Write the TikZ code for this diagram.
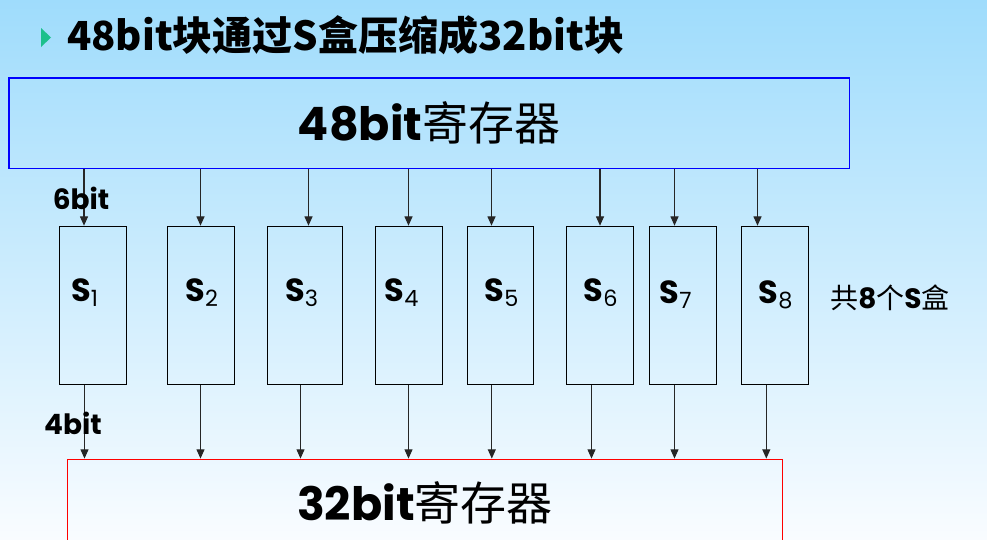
\documentclass[tikz,border=0pt]{standalone}
\usepackage{fontspec}
\setmainfont{Poppins}
\newfontfamily\cjk{Noto Sans CJK SC}
\usetikzlibrary{arrows.meta}
\definecolor{bgtop}{HTML}{9FDCFC}
\definecolor{bgmid}{HTML}{D6EFFD}
\definecolor{bgbot}{HTML}{F9FCFF}
\definecolor{bullet}{HTML}{1CC08C}
\tikzset{
  reg/.style={draw, line width=1pt, inner sep=0pt},
  sbox/.style={draw, line width=0.9pt, minimum width=50.25pt, minimum height=118.5pt, inner sep=0pt},
  arr/.style={-{Triangle[width=6pt,length=7pt]}, line width=0.9pt, black!85},
  slabel/.style={font=\fontsize{24}{24}\selectfont\bfseries, inner sep=0pt},
  bitlabel/.style={font=\fontsize{21}{21}\selectfont\bfseries, inner sep=0pt},
}
\begin{document}
\begin{tikzpicture}[x=0.75pt, y=-0.75pt]
\useasboundingbox (0,0) rectangle (987,539);
\clip (0,0) rectangle (987,539);
\shade[top color=bgtop, middle color=bgmid, bottom color=bgbot] (0,0) rectangle (987,539);

\fill[bullet] (41,28) -- (41,47) -- (51,37.5) -- cycle;
\node[anchor=west, inner sep=0pt, font=\fontsize{30}{30}\selectfont] (title) at (67,35) {\cjk\bfseries 48bit块通过S盒压缩成32bit块};

\node[reg, draw=blue, minimum width=630.2pt, minimum height=67.7pt, font=\fontsize{34.5}{34.5}\selectfont] (T) at (429.2,123.2) {{\bfseries 48bit}{\cjk 寄存器}};

\node[sbox] (S1) at (93,305.3) {};
\node[sbox] (S2) at (201,305.3) {};
\node[sbox, minimum width=56.5pt] (S3) at (305,305.3) {};
\node[sbox] (S4) at (409,305.3) {};
\node[sbox, minimum width=49.5pt] (S5) at (500.3,305.3) {};
\node[sbox] (S6) at (599.8,305.3) {};
\node[sbox] (S7) at (682.8,305.3) {};
\node[sbox] (S8) at (774.8,305.3) {};

\node[slabel] (L1) at (85,293) {S\textsubscript{\mdseries 1}};
\node[slabel] (L2) at (202,293) {S\textsubscript{\mdseries 2}};
\node[slabel] (L3) at (302,293) {S\textsubscript{\mdseries 3}};
\node[slabel] (L4) at (402,293) {S\textsubscript{\mdseries 4}};
\node[slabel] (L5) at (502,293) {S\textsubscript{\mdseries 5}};
\node[slabel] (L6) at (601,293) {S\textsubscript{\mdseries 6}};
\node[slabel] (L7) at (676,295) {S\textsubscript{\mdseries 7}};
\node[slabel] (L8) at (776,295) {S\textsubscript{\mdseries 8}};

\node[reg, draw=red, minimum width=536.2pt, minimum height=65.6pt, font=\fontsize{34.5}{34.5}\selectfont] (B) at (424.9,503) {{\bfseries 32bit}{\cjk 寄存器}};

\coordinate (a1) at (84,0);
\coordinate (a2) at (200.5,0);
\coordinate (a3) at (308.5,0);
\coordinate (a4) at (408.5,0);
\coordinate (a5) at (491.5,0);
\coordinate (a6) at (600,0);
\coordinate (a7) at (674.5,0);
\coordinate (a8) at (757.5,0);
\coordinate (b1) at (84.5,0);
\coordinate (b2) at (200.5,0);
\coordinate (b3) at (300.5,0);
\coordinate (b4) at (408.5,0);
\coordinate (b5) at (491.8,0);
\coordinate (b6) at (591.5,0);
\coordinate (b7) at (674.5,0);
\coordinate (b8) at (766.3,0);

\draw[arr] (T.south -| a1) -- (S1.north -| a1);
\draw[arr] (T.south -| a2) -- (S2.north -| a2);
\draw[arr] (T.south -| a3) -- (S3.north -| a3);
\draw[arr] (T.south -| a4) -- (S4.north -| a4);
\draw[arr] (T.south -| a5) -- (S5.north -| a5);
\draw[arr] (T.south -| a6) -- (S6.north -| a6);
\draw[arr] (T.south -| a7) -- (S7.north -| a7);
\draw[arr] (T.south -| a8) -- (S8.north -| a8);
\draw[arr] (S1.south -| b1) -- (B.north -| b1);
\draw[arr] (S2.south -| b2) -- (B.north -| b2);
\draw[arr] (S3.south -| b3) -- (B.north -| b3);
\draw[arr] (S4.south -| b4) -- (B.north -| b4);
\draw[arr] (S5.south -| b5) -- (B.north -| b5);
\draw[arr] (S6.south -| b6) -- (B.north -| b6);
\draw[arr] (S7.south -| b7) -- (B.north -| b7);
\draw[arr] (S8.south -| b8) -- (B.north -| b8);

\node[bitlabel] (in6) at (81,198) {6bit};
\node[bitlabel] (out4) at (73,423) {4bit};
\node[inner sep=0pt, font=\fontsize{21}{21}\selectfont] (total) at (890,298) {{\cjk 共}{\bfseries 8}{\cjk 个}{\bfseries S}{\cjk 盒}};
\end{tikzpicture}
\end{document}
